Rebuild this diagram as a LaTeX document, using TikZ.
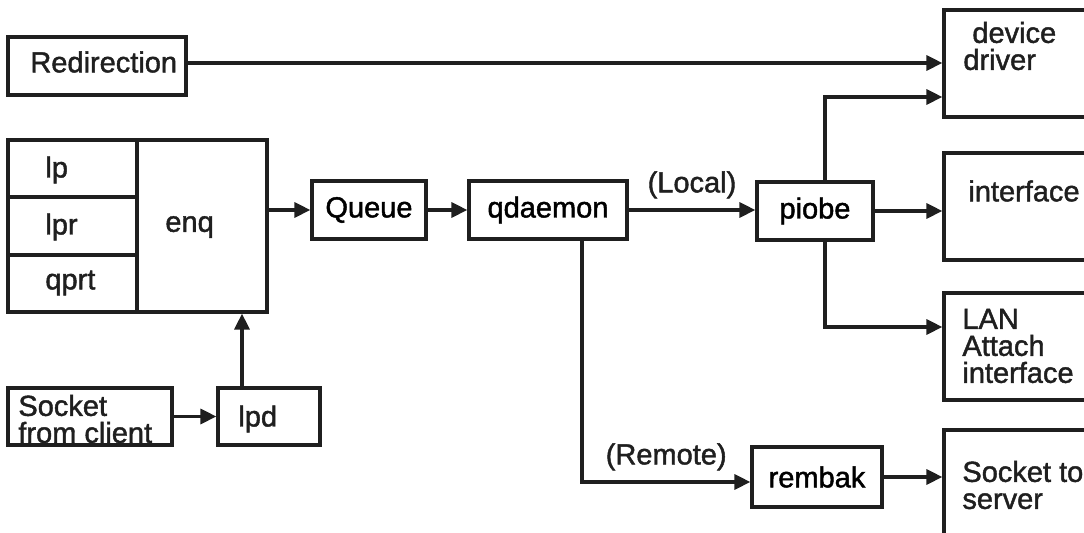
\documentclass[tikz,border=0pt]{standalone}
\usepackage{fontspec}
\setmainfont[FakeBold=1.5]{Liberation Sans}
\usepackage{tikz}
\usetikzlibrary{arrows.meta}
\definecolor{LineBlack}{rgb}{0.12, 0.12, 0.12}
\tikzset{
	Box/.style={draw=LineBlack, line width=1.6pt, inner sep=0pt, font=\fontsize{14.5}{13.5}\selectfont},
	Txt/.style={inner sep=0pt, anchor=west, align=left, text=LineBlack, font=\fontsize{14.5}{13.5}\selectfont},
	Flow/.style={draw=LineBlack, line width=1.6pt, -{Triangle[length=8pt, width=7.5pt]}},
}

\begin{document}
\begin{tikzpicture}[x=0.5pt, y=-0.5pt]
	\useasboundingbox (0,0) rectangle (1084,533);
	% boxes
	\node[Box, minimum width=89pt, minimum height=29pt] (redir) at (97,66) {};
	\node[Box, minimum width=64.5pt, minimum height=28.5pt] (lp) at (72.5,168.5) {};
	\node[Box, minimum width=64.5pt, minimum height=29pt] (lpr) at (72.5,226) {};
	\node[Box, minimum width=64.5pt, minimum height=28.5pt] (qprt) at (72.5,283.5) {};
	\node[Box, minimum width=65pt, minimum height=86pt] (enq) at (202,226) {};
	\node[Box, minimum width=82pt, minimum height=28.5pt] (sockc) at (90,416.5) {};
	\node[Box, minimum width=51pt, minimum height=28.5pt] (lpd) at (269,416.5) {};
	\node[Box, minimum width=57pt, minimum height=29pt] (queue) at (369,210) {Queue};
	\node[Box, minimum width=79pt, minimum height=29pt] (qdaemon) at (548,210) {qdaemon};
	\node[Box, minimum width=58pt, minimum height=29pt] (piobe) at (815,211) {piobe};
	\node[Box, minimum width=65pt, minimum height=30pt] (rembak) at (817,477) {rembak};
	\node[Box, minimum width=78pt, minimum height=53.5pt] (ddriver) at (1022,63.5) {};
	\node[Box, minimum width=78pt, minimum height=53.5pt] (iface) at (1022,206.5) {};
	\node[Box, minimum width=78pt, minimum height=53.5pt] (lan) at (1022,346.5) {};
	\node[Box, minimum width=78pt, minimum height=57.5pt] (socks) at (1022,487.5) {};
	% texts
	\node[Txt] (redir-t) at (30,62) {Redirection};
	\node[Txt] (lp-t) at (45,170) {lp};
	\node[Txt] (lpr-t) at (45,227) {lpr};
	\node[Txt] (qprt-t) at (45,283) {qprt};
	\node[Txt] (enq-t) at (165,227) {enq};
	\node[Txt] (sockc-t) at (18,419) {Socket\\from client};
	\node[Txt] (lpd-t) at (238,419) {lpd};
	\node[Txt] (ddriver-t) at (963,46) {\hspace*{4.5pt}device\\driver};
	\node[Txt] (iface-t) at (968,191) {interface};
	\node[Txt] (lan-t) at (962,346) {LAN\\Attach\\interface};
	\node[Txt] (socks-t) at (962,485) {Socket to\\server};
	% connectors
	\draw[Flow] ([yshift=1.5pt]redir.east) -- ([yshift=1.5pt]redir.east -| ddriver.west);
	\draw[Flow] (sockc.east) -- (lpd.west);
	\draw[Flow] ([xshift=-13.5pt]lpd.north) -- ([xshift=-13.5pt]lpd.north |- enq.south);
	\draw[Flow] (enq.east |- queue.west) -- (queue.west);
	\draw[Flow] (queue.east) -- (qdaemon.west);
	\draw[Flow] (qdaemon.east) -- node[Txt, anchor=south, above=5pt] (local-t) {(Local)} (qdaemon.east -| piobe.west);
	\draw[Flow] ([xshift=17pt]qdaemon.south) |- node[Txt, anchor=south, pos=0.75, above=5pt] (remote-t) {(Remote)} ([yshift=-2.5pt]rembak.west);
	\draw[Flow] ([xshift=5pt]piobe.north) |- ([yshift=-16.75pt]ddriver.west);
	\draw[Flow] (piobe.east) -- (piobe.east -| iface.west);
	\draw[Flow] ([xshift=5pt]piobe.south) |- ([yshift=9.75pt]lan.west);
	\draw[Flow] (rembak.east) -- (rembak.east -| socks.west);
\end{tikzpicture}
\end{document}
